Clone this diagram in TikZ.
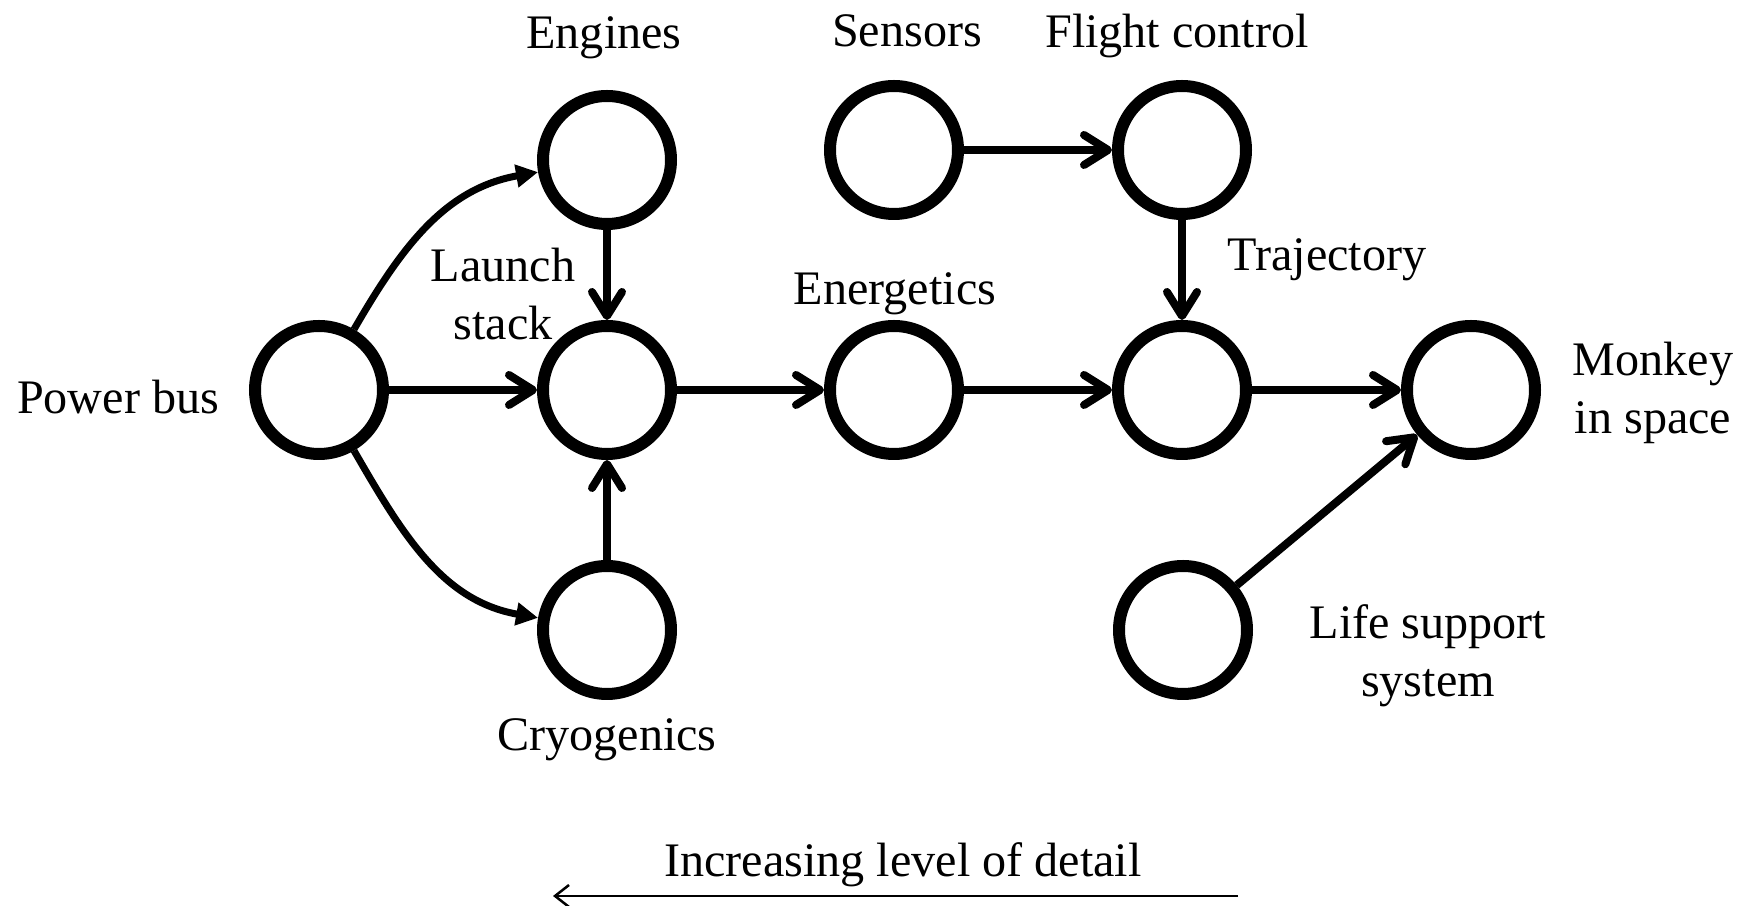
\documentclass[tikz,border=0pt]{standalone}
\usepackage{fontspec}
\setmainfont{Liberation Serif}
\usetikzlibrary{arrows.meta}

\begin{document}
\begin{tikzpicture}[
    blob/.style={draw,circle,line width=0.12cm,minimum size=1.28cm,inner sep=0},
    lab/.style={font=\fontsize{13.7}{16.5}\selectfont,align=center,inner sep=0},
    link/.style={line width=0.08cm,-{Straight Barb[round,length=0.24cm,width=0.3cm]}},
    bent/.style={line width=0.07cm,-{Triangle[length=0.22cm,width=0.22cm]}}
  ]
    \useasboundingbox (0, 0) rectangle (17.45, 9.06);

    \node[blob](pb) at (3.19, 5.16) {};
    \node[blob](eng) at (6.07, 7.46) {};
    \node[blob](ls) at (6.07, 5.16) {};
    \node[blob](cry) at (6.07, 2.76) {};
    \node[blob](sens) at (8.94, 7.56) {};
    \node[blob](fc) at (11.82, 7.56) {};
    \node[blob](en) at (8.94, 5.16) {};
    \node[blob](tr) at (11.82, 5.16) {};
    \node[blob](mk) at (14.71, 5.16) {};
    \node[blob](lss) at (11.83, 2.76) {};

    \node[lab](lpb) at (1.18, 5.09) {Power bus};
    \node[lab](leng) at (6.04, 8.68) {Engines};
    \node[lab](lls) at (5.03, 6.12) {Launch\\stack};
    \node[lab](lcry) at (6.07, 1.66) {Cryogenics};
    \node[lab](lsens) at (9.07, 8.75) {Sensors};
    \node[lab](lfc) at (11.77, 8.70) {Flight control};
    \node[lab](len) at (8.95, 6.12) {Energetics};
    \node[lab](ltr) at (13.27, 6.46) {Trajectory};
    \node[lab](lmk) at (16.53, 5.13) {Monkey\\in space};
    \node[lab](llss) at (14.28, 2.50) {Life support\\system};

    \draw[bent] (pb) to[out=60, in=190] (eng);
    \draw[bent] (pb) to[out=-60, in=170] (cry);
    \draw[link] (pb) -- (ls);
    \draw[link] (eng) -- (ls);
    \draw[link] (cry) -- (ls);
    \draw[link] (ls) -- (en);
    \draw[link] (en) -- (tr);
    \draw[link] (sens) -- (fc);
    \draw[link] (fc) -- (tr);
    \draw[link] (tr) -- (mk);
    \draw[link] (lss) -- (mk);

    % level of detail
    \node[lab](ldet) at (9.03, 0.41) {Increasing level of detail};
    \coordinate (dfrom) at (12.38, 0.10);
    \coordinate (dto) at (5.53, 0.10);
    \draw[line width=0.025cm,-{Straight Barb[length=0.14cm,width=0.22cm]}] (dfrom) -- (dto);
\end{tikzpicture}
\end{document}
